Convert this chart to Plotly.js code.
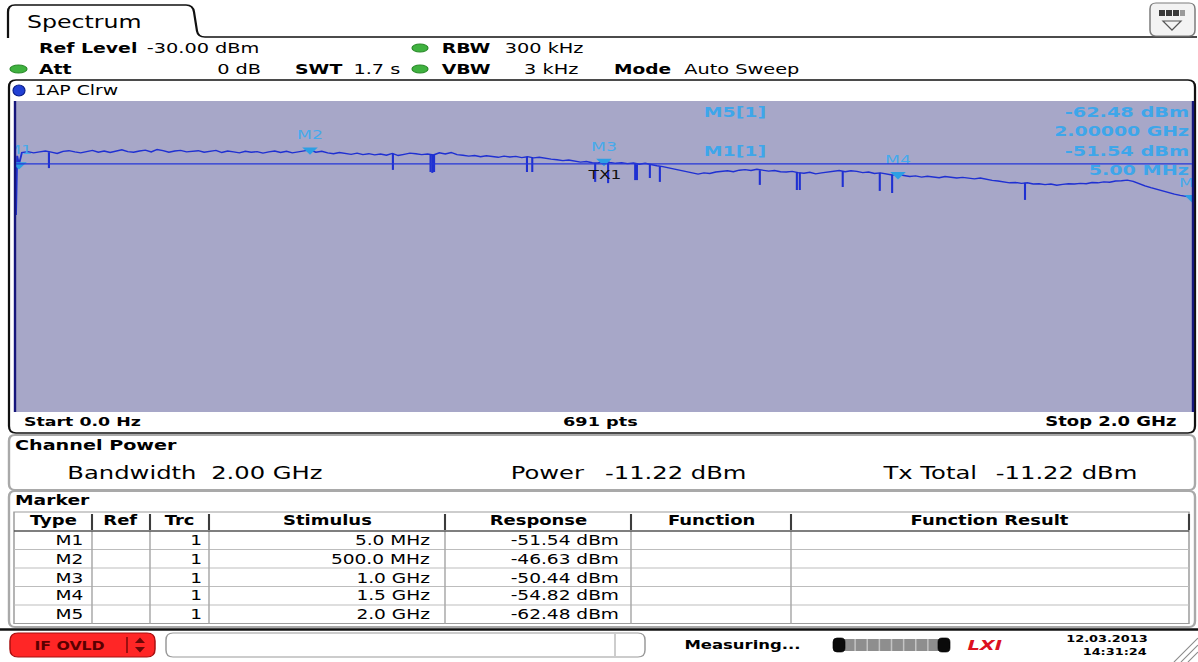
<!DOCTYPE html>
<html>
<head>
<meta charset="utf-8">
<script src="https://cdn.plot.ly/plotly-3.0.1.min.js"></script>
<style>
  html, body { margin: 0; padding: 0; background: #fff; width: 1198px; height: 662px; }
  #frame { position: relative; width: 1198px; height: 662px; overflow: hidden; }
  /* the instrument screen is 800x600 and is shown stretched to 1198x662 */
  #screen { position: absolute; left: 0; top: 0; width: 800px; height: 600px;
            transform: scale(1.4975, 1.103333); transform-origin: 0 0; }
</style>
</head>
<body>
<div id="frame"><div id="screen"></div></div>
<script>
// ---------------- instrument settings ----------------
const refLevelDbm = -30.00;
const attDb = 0;
const sweepTimeS = 1.7;
const rbwKHz = 300;
const vbwKHz = 3;
const sweepPoints = 691;
const startLabel = '0.0 Hz';
const stopLabel = '2.0 GHz';
const spanMHz = [0, 2000];

// ---------------- channel power results ----------------
const channelBandwidthGHz = 2.00;
const channelPowerDbm = -11.22;
const txTotalDbm = -11.22;
const txLineDbm = -51.3;

// ---------------- markers ----------------
const markerNames = ['M1', 'M2', 'M3', 'M4', 'M5'];
const markerTrace = [1, 1, 1, 1, 1];
const markerFreqMHz = [5, 500, 1000, 1500, 2000];
const markerStimulus = ['5.0 MHz', '500.0 MHz', '1.0 GHz', '1.5 GHz', '2.0 GHz'];
const markerLevelDbm = [-51.54, -46.63, -50.44, -54.82, -62.48];

// ---------------- trace 1 (AP, clear/write) ----------------
const leadFreqMHz = [0, 2, 5];
const leadLevelDbm = [-68.3, -48.6, -51.54];
const gridStartMHz = 10;
const gridStepMHz = 10;
const traceLevelDbm = [
  -47.5, -47.2, -47.6, -47.3, -47.0, -47.4, -47.8, -47.1, -46.9, -47.3,
  -47.6, -47.2, -46.8, -47.4, -47.0, -47.5, -47.1, -46.6, -47.2, -47.4,
  -47.0, -46.7, -47.3, -46.5, -46.9, -47.4, -47.0, -46.8, -47.3, -47.1,
  -46.9, -47.4, -47.2, -46.8, -47.5, -47.0, -47.3, -47.6, -47.1, -47.4,
  -47.2, -47.7, -47.3, -47.0, -47.5, -47.1, -47.6, -47.2, -46.9, -46.63,
  -47.4, -47.1, -47.6, -47.9, -47.5, -47.8, -48.1, -47.7, -48.2, -47.9,
  -48.3, -48.0, -48.4, -47.8, -48.5, -48.1, -47.7, -47.9, -48.2, -48.0,
  -48.3, -47.6, -48.0, -47.5, -48.2, -48.4, -48.7, -48.5, -48.9, -48.6,
  -48.8, -49.1, -48.7, -49.0, -48.8, -49.2, -48.9, -49.3, -49.1, -49.5,
  -49.7, -49.9, -50.2, -50.0, -50.4, -50.7, -50.5, -50.9, -51.0, -50.44,
  -50.8, -51.1, -50.9, -51.2, -51.0, -51.4, -51.1, -51.6, -51.9, -52.2,
  -52.6, -53.1, -53.6, -54.0, -54.4, -54.7, -54.3, -54.5, -54.0, -53.8,
  -53.6, -53.9, -53.4, -53.2, -53.5, -53.1, -53.4, -53.7, -53.5, -53.9,
  -54.0, -53.8, -54.2, -54.4, -54.1, -54.6, -54.3, -54.0, -53.7, -53.5,
  -53.9, -53.6, -53.8, -54.2, -54.0, -54.5, -54.3, -54.7, -55.0, -54.82,
  -55.2, -55.5, -55.3, -55.7, -55.4, -55.6, -55.9, -55.5, -55.8, -56.0,
  -55.8, -56.1, -56.3, -56.0, -56.5, -56.8, -57.0, -57.3, -57.6, -57.5,
  -57.8, -57.6, -58.0, -57.9, -58.2, -58.0, -58.4, -58.1, -57.9, -58.0,
  -57.8, -57.9, -57.5, -57.6, -57.3, -57.4, -57.0, -56.9, -56.7, -57.1,
  -58.0, -58.6, -59.2, -59.8, -60.5, -61.0, -61.4, -61.8, -62.1, -62.48
];

// narrow drop-outs in the trace
const dropFreqMHz  = [56, 641, 705, 708, 711, 869, 878, 985, 1007, 1053, 1056, 1078, 1095, 1265, 1328, 1333, 1406, 1469, 1490, 1716];
const dropLevelDbm = [-52.7, -53.3, -54.0, -54.3, -54.0, -54.0, -54.0, -57.3, -57.7, -56.7, -56.7, -56.0, -57.3, -58.3, -60.0, -60.0, -59.0, -60.3, -61.0, -63.3];

// ---------------- helpers (screen pixels -> paper) ----------------
const W = 1198, H = 662;
const FONT = 'DejaVu Sans, Verdana, sans-serif';
const ax = v => v / W;
const ay = v => 1 - v / H;
const pt = (x, y) => ax(x).toFixed(5) + ',' + ay(y).toFixed(5);

const shapes = [];
const annotations = [];

function roundRect(x0, y0, x1, y1, r, lineColor, lineWidth, fill) {
  const d = 'M ' + pt(x0 + r, y0) + ' L ' + pt(x1 - r, y0) +
    ' Q ' + pt(x1, y0) + ' ' + pt(x1, y0 + r) + ' L ' + pt(x1, y1 - r) +
    ' Q ' + pt(x1, y1) + ' ' + pt(x1 - r, y1) + ' L ' + pt(x0 + r, y1) +
    ' Q ' + pt(x0, y1) + ' ' + pt(x0, y1 - r) + ' L ' + pt(x0, y0 + r) +
    ' Q ' + pt(x0, y0) + ' ' + pt(x0 + r, y0) + ' Z';
  shapes.push({ type: 'path', xref: 'paper', yref: 'paper', path: d,
    line: { color: lineColor || 'rgba(0,0,0,0)', width: lineWidth || 0 },
    fillcolor: fill || 'rgba(0,0,0,0)' });
}
function rect(x0, y0, x1, y1, fill, lineColor, lineWidth) {
  shapes.push({ type: 'rect', xref: 'paper', yref: 'paper',
    x0: ax(x0), x1: ax(x1), y0: ay(y1), y1: ay(y0), fillcolor: fill || 'rgba(0,0,0,0)',
    line: { color: lineColor || 'rgba(0,0,0,0)', width: lineWidth || 0 } });
}
function seg(x0, y0, x1, y1, color, width) {
  shapes.push({ type: 'line', xref: 'paper', yref: 'paper',
    x0: ax(x0), y0: ay(y0), x1: ax(x1), y1: ay(y1), line: { color: color, width: width } });
}
function ellipse(x0, y0, x1, y1, fill, lineColor) {
  shapes.push({ type: 'circle', xref: 'paper', yref: 'paper',
    x0: ax(x0), x1: ax(x1), y0: ay(y1), y1: ay(y0), fillcolor: fill,
    line: { color: lineColor || fill, width: 0.8 } });
}
function poly(points, fill, lineColor, lineWidth) {
  const d = 'M ' + points.map(p => pt(p[0], p[1])).join(' L ') + ' Z';
  shapes.push({ type: 'path', xref: 'paper', yref: 'paper', path: d,
    fillcolor: fill || 'rgba(0,0,0,0)', line: { color: lineColor || 'rgba(0,0,0,0)', width: lineWidth || 0 } });
}
function label(text, x, y, size, o) {
  o = o || {};
  annotations.push({
    text: o.bold ? '<b>' + text + '</b>' : text,
    x: ax(x), y: ay(y), xref: 'paper', yref: 'paper',
    xanchor: o.anchor || 'left', yanchor: 'middle', showarrow: false, borderpad: 0,
    font: { family: FONT, size: size, color: o.color || '#000' }
  });
}

// ---------------- title tab and header ----------------
shapes.push({ type: 'path', xref: 'paper', yref: 'paper',
  path: 'M ' + pt(8, 38) + ' L ' + pt(8, 12) + ' Q ' + pt(8, 5) + ' ' + pt(15, 5) +
        ' L ' + pt(186, 5) + ' Q ' + pt(193, 5) + ' ' + pt(194, 12) +
        ' L ' + pt(197, 31) + ' Q ' + pt(198, 37) + ' ' + pt(205, 37) + ' L ' + pt(1197, 37),
  line: { color: '#111', width: 1.5 } });
label('Spectrum', 25, 21, 15.8);

roundRect(1150, 3, 1195, 36, 6, '#7c7c7c', 1, '#f3f3f3');
rect(1159, 10, 1165, 16, '#3a3a3a');
rect(1166, 10, 1172, 16, '#3a3a3a');
rect(1173, 10, 1179, 16, '#3a3a3a');
rect(1180, 10, 1185, 16, '#9a9a9a');
poly([[1163, 21], [1181, 21], [1172, 30]], 'rgba(0,0,0,0)', '#555', 1);

const green = '#3fb23f';
ellipse(10, 65, 27, 73, green, '#2a8a2a');
ellipse(412, 44, 428, 52, green, '#2a8a2a');
ellipse(412, 65, 428, 73, green, '#2a8a2a');

label('Ref Level', 38, 48, 12.6, { bold: true });
label(refLevelDbm.toFixed(2) + ' dBm', 146, 48, 12.9);
label('Att', 38, 69, 12.6, { bold: true });
label(attDb + ' dB', 262, 69, 12.9, { anchor: 'right' });
label('SWT', 293, 69, 12.6, { bold: true });
label(sweepTimeS.toFixed(1) + ' s', 352, 69, 12.9);
label('RBW', 441, 48, 12.6, { bold: true });
label(rbwKHz + ' kHz', 503, 48, 12.9);
label('VBW', 441, 69, 12.6, { bold: true });
label(vbwKHz + ' kHz', 580, 69, 12.9, { anchor: 'right' });
label('Mode', 612, 69, 12.4, { bold: true });
label('Auto Sweep', 683, 69, 12.9);

// ---------------- diagram frame ----------------
roundRect(9, 80, 1195, 433, 7, '#111', 1.5);
ellipse(13, 85, 25, 96, '#2140d4', '#0c1f8a');
label('1AP Clrw', 33, 90, 12.6);
seg(15, 101, 15, 412, '#16167c', 1.6);
seg(1193, 101, 1193, 412, '#16167c', 1.6);

label('Start ' + startLabel, 22, 422, 11.6, { bold: true });
label(sweepPoints + ' pts', 600, 422, 11.8, { bold: true, anchor: 'center' });
label('Stop ' + stopLabel, 1178, 422, 12, { bold: true, anchor: 'right' });

// marker readout (upper right of the diagram)
const cyan = '#3ea6ea';
label(markerNames[4] + '[' + markerTrace[4] + ']', 702, 112, 12.6, { bold: true, color: cyan });
label(markerLevelDbm[4].toFixed(2) + ' dBm', 1190, 112, 12.9, { bold: true, color: cyan, anchor: 'right' });
label((markerFreqMHz[4] / 1000).toFixed(5) + ' GHz', 1190, 131, 12.6, { bold: true, color: cyan, anchor: 'right' });
label(markerNames[0] + '[' + markerTrace[0] + ']', 702, 151, 12.6, { bold: true, color: cyan });
label(markerLevelDbm[0].toFixed(2) + ' dBm', 1190, 151, 12.9, { bold: true, color: cyan, anchor: 'right' });
label(markerFreqMHz[0].toFixed(2) + ' MHz', 1190, 170, 12.8, { bold: true, color: cyan, anchor: 'right' });

// ---------------- channel power panel ----------------
roundRect(9, 435, 1195, 490, 6, '#a9a9a9', 1.6, '#ffffff');
label('Channel Power', 14, 445, 12.8, { bold: true });
label('Bandwidth', 66, 473, 16.2);
label(channelBandwidthGHz.toFixed(2) + ' GHz', 210, 473, 16.2);
label('Power', 509, 473, 16.2);
label(channelPowerDbm.toFixed(2) + ' dBm', 604, 473, 16.2);
label('Tx Total', 880, 473, 16.2);
label(txTotalDbm.toFixed(2) + ' dBm', 995, 473, 16.2);

// ---------------- marker table panel ----------------
roundRect(9, 491, 1195, 627, 6, '#a9a9a9', 1.6, '#ffffff');
label('Marker', 14, 500, 12.5, { bold: true });

const colEdges = [14, 92, 150, 209, 445, 631, 791, 1189];
const colTitles = ['Type', 'Ref', 'Trc', 'Stimulus', 'Response', 'Function', 'Function Result'];
const headTop = 512, headBottom = 531, rowH = 18.5;
rect(colEdges[0], headTop, colEdges[7], headBottom + rowH * markerNames.length, '#ffffff', '#9c9c9c', 1);
for (let r = 1; r < markerNames.length; r++) {
  seg(colEdges[0], headBottom + r * rowH, colEdges[7], headBottom + r * rowH, '#bdbdbd', 1);
}
for (let c = 1; c < colEdges.length - 1; c++) {
  seg(colEdges[c], headBottom, colEdges[c], headBottom + rowH * markerNames.length, '#a9a9a9', 1);
  seg(colEdges[c], headTop + 2, colEdges[c], headBottom - 1, '#3c3c3c', 1.4);
}
seg(colEdges[7], headTop + 2, colEdges[7], headBottom - 1, '#3c3c3c', 1.4);
seg(colEdges[0], headBottom, colEdges[7], headBottom, '#555', 1.3);
colTitles.forEach((t, c) => label(t, (colEdges[c] + colEdges[c + 1]) / 2, 521, 12, { bold: true, anchor: 'center' }));
markerNames.forEach((name, r) => {
  const yc = headBottom + rowH * (r + 0.5);
  label(name, 85, yc, 12.4, { anchor: 'right' });
  label(String(markerTrace[r]), 204, yc, 12.4, { anchor: 'right' });
  label(markerStimulus[r], 431, yc, 12.4, { anchor: 'right' });
  label(markerLevelDbm[r].toFixed(2) + ' dBm', 620, yc, 12.4, { anchor: 'right' });
});

// ---------------- status bar ----------------
seg(0, 629.5, W, 629.5, '#111', 2.4);
roundRect(10, 633, 155, 657, 8, '#a81010', 1, '#ff2626');
seg(127, 637, 127, 653, '#7a0a0a', 1);
poly([[135, 643], [145, 643], [140, 637.5]], '#6a0808');
poly([[135, 647], [145, 647], [140, 652.5]], '#6a0808');
label('IF OVLD', 70, 645, 10.5, { bold: true, color: '#5a0000', anchor: 'center' });
roundRect(166, 633, 645, 657, 7, '#9a9a9a', 1, '#ffffff');
seg(615, 634, 615, 656, '#bcbcbc', 1);
label('Measuring...', 683, 645, 11, { bold: true });

rect(843, 639, 940, 651, '#8e8e8e');
for (let k = 1; k < 8; k++) {
  const xs = 843 + k * (97 / 8);
  seg(xs, 639, xs, 651, '#c4c4c4', 1);
}
roundRect(833, 638, 845, 652, 4, '#000', 0.5, '#0a0a0a');
roundRect(938, 638, 950, 652, 4, '#000', 0.5, '#0a0a0a');
annotations.push({ text: '<b><i>LXI</i></b>', x: ax(984), y: ay(645), xref: 'paper', yref: 'paper',
  xanchor: 'center', yanchor: 'middle', showarrow: false, borderpad: 0,
  font: { family: FONT, size: 13, color: '#dc1020' } });
label('12.03.2013', 1148, 639, 8.6, { bold: true, anchor: 'right' });
label('14:31:24', 1148, 652, 8.6, { bold: true, anchor: 'right' });
seg(1174, 662, 1198, 638, '#8a8a8a', 0.8);
seg(1181, 662, 1198, 645, '#8a8a8a', 0.8);
seg(1188, 662, 1198, 652, '#8a8a8a', 0.8);

// ---------------- diagram content ----------------
shapes.push({ type: 'line', xref: 'x', yref: 'y', x0: spanMHz[0], x1: spanMHz[1],
  y0: txLineDbm, y1: txLineDbm, line: { color: '#2436d8', width: 1 } });
annotations.push({ text: 'TX1', xref: 'x', yref: 'y', x: (spanMHz[0] + spanMHz[1]) / 2, y: txLineDbm,
  xanchor: 'center', yanchor: 'top', yshift: -1, showarrow: false, borderpad: 0,
  font: { family: FONT, size: 11.4, color: '#111' } });

const traceFreqMHz = leadFreqMHz.concat(traceLevelDbm.map((_, i) => gridStartMHz + i * gridStepMHz));
const traceLevel = leadLevelDbm.concat(traceLevelDbm);

const dropX = [], dropY = [];
dropFreqMHz.forEach((f, i) => {
  const top = traceLevelDbm[Math.round((f - gridStartMHz) / gridStepMHz)];
  dropX.push(f, f, null);
  dropY.push(top, dropLevelDbm[i], null);
});

const data = [
  { type: 'scatter', mode: 'lines', x: traceFreqMHz, y: traceLevel,
    line: { color: '#1f30d2', width: 1.25 }, hoverinfo: 'skip', showlegend: false },
  { type: 'scatter', mode: 'lines', x: dropX, y: dropY, connectgaps: false,
    line: { color: '#1f30d2', width: 1.4 }, hoverinfo: 'skip', showlegend: false },
  { type: 'scatter', mode: 'markers+text', x: markerFreqMHz, y: markerLevelDbm,
    text: markerNames, textposition: 'top center', cliponaxis: true,
    textfont: { family: FONT, size: 11.5, color: '#45aaec' },
    marker: { symbol: 'triangle-down', size: 9, color: '#2c9fe4', line: { width: 0 } },
    hoverinfo: 'skip', showlegend: false }
];

const layout = {
  width: 800, height: 600,
  margin: { l: 0, r: 0, t: 0, b: 0, pad: 0 },
  paper_bgcolor: '#ffffff',
  plot_bgcolor: '#a7a7c8',
  font: { family: FONT },
  showlegend: false,
  xaxis: { domain: [ax(16), ax(1192)], range: spanMHz, showgrid: false, zeroline: false,
           showticklabels: false, ticks: '', showline: false, fixedrange: true },
  yaxis: { domain: [ay(412), ay(101)], range: [-134, -30.33], showgrid: false, zeroline: false,
           showticklabels: false, ticks: '', showline: false, fixedrange: true },
  shapes: shapes,
  annotations: annotations
};

Plotly.newPlot('screen', data, layout, { displayModeBar: false, staticPlot: true });
</script>
</body>
</html>
